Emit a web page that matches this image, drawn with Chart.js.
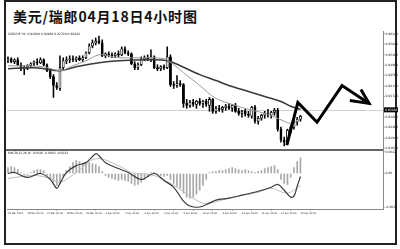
<!DOCTYPE html>
<html>
<head>
<meta charset="utf-8">
<script src="https://cdn.jsdelivr.net/npm/chart.js@4/dist/chart.umd.min.js"></script>
<style>
  html, body { margin: 0; padding: 0; background: #fff; width: 400px; height: 249px; overflow: hidden; }
  #frame { position: absolute; left: 4px; top: 0; width: 389px; height: 241px; border: 2px solid #222; }
  #title { position: absolute; left: 13px; top: 6px; font: 700 14px "Noto Sans CJK SC", sans-serif; color: #111; letter-spacing: 0.8px; white-space: nowrap; }
  #main { position: absolute; left: 0; top: 28px; }
  #macd { position: absolute; left: 0; top: 148px; }
</style>
</head>
<body>
<div id="frame"></div>
<div id="title">美元/瑞郎04月18日4小时图</div>
<canvas id="main" width="400" height="125"></canvas>
<canvas id="macd" width="400" height="72"></canvas>
<script>
// USD/CHF, 4-hour bars
const openP  = [0.9520,0.9524,0.9512,0.9520,0.9500,0.9484,0.9488,0.9496,0.9504,0.9512,0.9508,0.9520,0.9500,0.9476,0.9452,0.9416,0.9404,0.9488,0.9516,0.9520,
                0.9524,0.9520,0.9528,0.9520,0.9528,0.9548,0.9576,0.9588,0.9596,0.9588,0.9536,0.9544,0.9540,0.9536,0.9544,0.9540,0.9564,0.9548,0.9544,0.9504,
                0.9488,0.9500,0.9524,0.9528,0.9520,0.9532,0.9488,0.9484,0.9492,0.9488,0.9532,0.9420,0.9416,0.9424,0.9420,0.9344,0.9336,0.9348,0.9340,0.9352,
                0.9344,0.9352,0.9336,0.9360,0.9312,0.9324,0.9320,0.9328,0.9332,0.9324,0.9336,0.9312,0.9304,0.9312,0.9300,0.9292,0.9328,0.9272,0.9284,0.9296,
                0.9304,0.9296,0.9308,0.9316,0.9240,0.9196,0.9188,0.9236,0.9248,0.9268,0.9280];
const highP  = [0.9532,0.9528,0.9524,0.9528,0.9508,0.9496,0.9500,0.9508,0.9516,0.9524,0.9528,0.9524,0.9504,0.9484,0.9460,0.9428,0.9536,0.9528,0.9532,0.9536,
                0.9536,0.9532,0.9536,0.9536,0.9552,0.9584,0.9600,0.9608,0.9616,0.9600,0.9548,0.9552,0.9548,0.9548,0.9556,0.9572,0.9572,0.9556,0.9548,0.9512,
                0.9508,0.9532,0.9536,0.9540,0.9560,0.9536,0.9500,0.9496,0.9500,0.9572,0.9540,0.9432,0.9456,0.9436,0.9424,0.9360,0.9356,0.9360,0.9356,0.9364,
                0.9356,0.9360,0.9368,0.9364,0.9332,0.9336,0.9332,0.9340,0.9344,0.9340,0.9344,0.9324,0.9316,0.9320,0.9312,0.9332,0.9336,0.9292,0.9300,0.9312,
                0.9320,0.9312,0.9324,0.9324,0.9248,0.9208,0.9240,0.9256,0.9276,0.9288,0.9296];
const lowP   = [0.9508,0.9508,0.9504,0.9496,0.9476,0.9460,0.9480,0.9488,0.9496,0.9500,0.9504,0.9496,0.9472,0.9444,0.9368,0.9400,0.9396,0.9480,0.9504,0.9508,
                0.9512,0.9512,0.9516,0.9512,0.9524,0.9544,0.9568,0.9580,0.9584,0.9532,0.9528,0.9532,0.9528,0.9528,0.9532,0.9536,0.9544,0.9536,0.9500,0.9480,
                0.9480,0.9496,0.9516,0.9516,0.9512,0.9484,0.9476,0.9476,0.9480,0.9484,0.9412,0.9404,0.9408,0.9412,0.9328,0.9324,0.9328,0.9332,0.9324,0.9336,
                0.9328,0.9332,0.9312,0.9304,0.9304,0.9312,0.9308,0.9316,0.9320,0.9312,0.9308,0.9296,0.9288,0.9292,0.9288,0.9284,0.9264,0.9260,0.9276,0.9284,
                0.9288,0.9284,0.9296,0.9232,0.9188,0.9172,0.9180,0.9224,0.9240,0.9256,0.9272];
const closeP = [0.9524,0.9512,0.9520,0.9500,0.9484,0.9488,0.9496,0.9504,0.9512,0.9508,0.9520,0.9500,0.9476,0.9452,0.9416,0.9408,0.9488,0.9516,0.9520,0.9524,
                0.9520,0.9528,0.9520,0.9528,0.9548,0.9576,0.9588,0.9596,0.9588,0.9536,0.9544,0.9540,0.9536,0.9544,0.9540,0.9564,0.9548,0.9544,0.9504,0.9488,
                0.9500,0.9524,0.9528,0.9520,0.9532,0.9488,0.9484,0.9492,0.9488,0.9532,0.9420,0.9416,0.9424,0.9420,0.9344,0.9336,0.9348,0.9340,0.9352,0.9344,
                0.9352,0.9340,0.9360,0.9312,0.9324,0.9320,0.9328,0.9332,0.9324,0.9336,0.9312,0.9304,0.9312,0.9300,0.9296,0.9328,0.9272,0.9284,0.9296,0.9304,
                0.9296,0.9308,0.9316,0.9240,0.9196,0.9188,0.9236,0.9248,0.9268,0.9280,0.9292];

// moving averages, as [bar index, price]
const maSlow = [[0,0.9484],[8,0.9488],[11,0.9484],[16,0.9476],[21,0.9492],[28,0.9508],[34,0.9516],[44,0.9520],[49,0.9516],[53,0.9496],
                [59,0.9460],[64,0.9436],[69,0.9412],[74,0.9392],[80,0.9368],[84,0.9352],[87,0.9332],[90,0.9320]];
const maFast = [[0,0.9496],[11,0.9492],[16,0.9476],[20,0.9496],[24,0.9516],[28,0.9540],[31,0.9536],[34,0.9528],[41,0.9528],[48,0.9524],
                [51,0.9500],[54,0.9468],[59,0.9416],[64,0.9364],[69,0.9340],[74,0.9320],[80,0.9300],[85,0.9272],[87,0.9264],[90,0.9284]];

// forecast path and its arrow head, as [bar index, price]
const forecastPath = [[85.8,0.9176],[89.2,0.9348],[95.1,0.9268],[102.8,0.9416],[111.1,0.9344]];
const forecastHead = [[108.6,0.9400],[111.1,0.9344],[105.2,0.9356]];

const bidPrice = 0.9318;
const priceTicks = [0.9624,0.9582,0.9540,0.9498,0.9456,0.9414,0.9372,0.9288,0.9246,0.9204,0.9162];

// MACD panel
const macdHist = [0.0006,0.0007,0.0006,0.0004,0.0001,-0.0001,-0.0001,0.0001,0.0003,0.0004,0.0004,0.0003,-0.0002,-0.0005,-0.0009,-0.0012,-0.0010,-0.0003,0.0003,0.0007,
                  0.0011,0.0013,0.0012,0.0010,0.0010,0.0011,0.0010,0.0009,0.0007,0.0002,-0.0002,-0.0004,-0.0005,-0.0006,-0.0007,-0.0006,-0.0007,-0.0008,-0.0010,-0.0012,
                  -0.0011,-0.0009,-0.0006,-0.0003,0.0001,0.0001,-0.0001,-0.0002,-0.0003,-0.0002,-0.0006,-0.0010,-0.0013,-0.0015,-0.0020,-0.0024,-0.0025,-0.0024,-0.0021,-0.0017,
                  -0.0012,-0.0006,0.0001,0.0002,0.0002,0.0003,0.0003,0.0004,0.0005,0.0006,0.0005,0.0004,0.0003,0.0004,0.0003,0.0002,0.0001,0.0002,0.0003,0.0005,
                  0.0006,0.0007,0.0008,0.0004,-0.0006,-0.0010,-0.0011,-0.0004,0.0006,0.0012,0.0016];
const macdMain = [[0,0.0000],[2,0.0001],[6,-0.0004],[10,0.0000],[13,-0.0006],[15,-0.0015],[16,-0.0010],[18,0.0001],[21,0.0008],[24,0.0011],
                  [27,0.0020],[28,0.0018],[30,0.0011],[34,0.0005],[37,0.0001],[41,-0.0006],[45,0.0000],[48,-0.0007],[51,-0.0014],[54,-0.0028],
                  [56,-0.0033],[59,-0.0034],[62,-0.0030],[64,-0.0027],[68,-0.0025],[72,-0.0022],[77,-0.0018],[81,-0.0014],[83,-0.0011],[85,-0.0017],
                  [87,-0.0024],[88,-0.0023],[89,-0.0013],[90,-0.0003]];
const macdSignal = [[0,-0.0005],[8,-0.0002],[13,-0.0005],[16,-0.0009],[21,0.0001],[27,0.0015],[34,0.0008],[38,0.0001],[45,-0.0002],[51,-0.0012],
                    [59,-0.0029],[62,-0.0030],[68,-0.0025],[77,-0.0019],[81,-0.0015],[86,-0.0020],[90,-0.0012]];
const macdTicks = [0.0022, 0, -0.0034];

// one time label every six bars
const timeLabels = ['25 Mar 2013','26 Mar 00:00','27 Mar 00:00','28 Mar 00:00','29 Mar 00:00','1 Apr 00:00','2 Apr 00:00','3 Apr 00:00',
                    '4 Apr 00:00','5 Apr 00:00','8 Apr 00:00','9 Apr 00:00','10 Apr 00:00','11 Apr 00:00','12 Apr 00:00','15 Apr 00:00'];
const timeLabelBars = [0,6,12,18,24,30,36,42,48,54,60,66,72,78,84,90];

const xMin = -0.3, xMax = 115.4;
const tinyFont = { family: 'DejaVu Sans', size: 3 };
const timeFont = { family: 'DejaVu Sans', size: 2.4 };
const pts = arr => arr.map(([x, y]) => ({ x, y }));
const last = closeP.length - 1;

const wicks = highP.map((h, i) => ({ x: i, y: [lowP[i], h] }));
const bodies = openP.map((o, i) => ({ x: i, y: [Math.min(o, closeP[i]), Math.max(o, closeP[i])] }));
const isUp = i => closeP[i] >= openP[i];

const mainExtras = {
  id: 'mainExtras',
  beforeDatasetsDraw(chart) {
    const { ctx, chartArea: a, scales: { y } } = chart;
    const py = Math.round(y.getPixelForValue(bidPrice)) + 0.5;
    ctx.save();
    ctx.strokeStyle = '#d0d0d0';
    ctx.lineWidth = 1;
    ctx.beginPath(); ctx.moveTo(a.left, py); ctx.lineTo(a.right, py); ctx.stroke();
    ctx.restore();
  },
  afterDraw(chart) {
    const { ctx, chartArea: a, scales: { y } } = chart;
    ctx.save();
    ctx.font = '3px "DejaVu Sans"';
    ctx.fillStyle = '#222';
    ctx.textBaseline = 'middle';
    ctx.fillText(`USDCHF,H4  ${openP[last].toFixed(5)} ${highP[last].toFixed(5)} ${lowP[last].toFixed(5)} ${closeP[last].toFixed(5)}`, a.left + 1, a.top + 3);
    const py = y.getPixelForValue(bidPrice);
    ctx.fillStyle = '#000';
    ctx.fillRect(a.right + 1, py - 2.5, 14, 5);
    ctx.fillStyle = '#fff';
    ctx.fillText(bidPrice.toFixed(5), a.right + 2, py);
    ctx.restore();
  }
};

new Chart(document.getElementById('main'), {
  type: 'bar',
  data: {
    datasets: [
      { type: 'line', data: pts(forecastPath), borderColor: '#000', borderWidth: 3, pointRadius: 0, borderJoinStyle: 'miter', order: -3 },
      { type: 'line', data: pts(forecastHead), borderColor: '#000', borderWidth: 3, pointRadius: 0, borderJoinStyle: 'miter', order: -3 },
      { type: 'line', data: pts(maSlow), borderColor: '#3a3a3a', borderWidth: 1.6, pointRadius: 0, tension: 0.35, order: -1 },
      { type: 'line', data: pts(maFast), borderColor: '#9a9a9a', borderWidth: 1, pointRadius: 0, tension: 0.35, order: -2 },
      { data: bodies, grouped: false, barThickness: 2.2, borderSkipped: false, borderWidth: 0.8, borderColor: '#000',
        backgroundColor: c => isUp(c.dataIndex) ? '#fff' : '#000', order: 1 },
      { data: wicks, grouped: false, barThickness: 0.9, backgroundColor: '#000', borderWidth: 0, order: 2 }
    ]
  },
  options: {
    responsive: false, animation: false, events: [],
    layout: { padding: { left: 7, top: 3, right: 0, bottom: 4 } },
    plugins: { legend: { display: false }, tooltip: { enabled: false } },
    scales: {
      x: { type: 'linear', min: xMin, max: xMax, offset: false, display: false },
      y: {
        position: 'right', min: 0.9160, max: 0.9636, beginAtZero: false,
        afterBuildTicks: s => { s.ticks = priceTicks.map(v => ({ value: v })); },
        afterFit: s => { s.width = 17; },
        ticks: { font: tinyFont, color: '#222', padding: 1, callback: v => v.toFixed(5) },
        grid: { drawOnChartArea: false, tickLength: 1.5, color: '#777' },
        border: { color: '#888' }
      }
    }
  },
  plugins: [mainExtras]
});

const macdExtras = {
  id: 'macdExtras',
  afterDraw(chart) {
    const { ctx, chartArea: a } = chart;
    ctx.save();
    ctx.strokeStyle = '#333';
    ctx.lineWidth = 1.6;
    ctx.beginPath(); ctx.moveTo(5, a.top - 0.8); ctx.lineTo(a.right, a.top - 0.8); ctx.stroke();
    ctx.font = '3px "DejaVu Sans"';
    ctx.fillStyle = '#222';
    ctx.textBaseline = 'middle';
    const m = macdMain[macdMain.length - 1][1], s = macdSignal[macdSignal.length - 1][1];
    ctx.fillText(`MACD(12,26,9)  ${macdHist[last].toFixed(4)} ${m.toFixed(4)} ${s.toFixed(4)}`, a.left + 1, a.top + 2.5);
    ctx.restore();
  }
};

new Chart(document.getElementById('macd'), {
  type: 'bar',
  data: {
    datasets: [
      { type: 'line', data: pts(macdMain), borderColor: '#3a3a3a', borderWidth: 1.2, pointRadius: 0, tension: 0.35, order: -2 },
      { type: 'line', data: pts(macdSignal), borderColor: '#bdbdbd', borderWidth: 1, pointRadius: 0, tension: 0.35, order: -1 },
      { data: macdHist.map((v, i) => ({ x: i, y: v })), barThickness: 1, backgroundColor: '#a8a8a8', borderWidth: 0, order: 1 }
    ]
  },
  options: {
    responsive: false, animation: false, events: [],
    layout: { padding: { left: 7, top: 2, right: 0, bottom: 0 } },
    plugins: { legend: { display: false }, tooltip: { enabled: false } },
    scales: {
      x: {
        type: 'linear', min: xMin, max: xMax, offset: false, position: 'bottom',
        afterBuildTicks: s => { s.ticks = timeLabelBars.map(v => ({ value: v })); },
        afterFit: s => { s.height = 11; },
        ticks: { font: timeFont, color: '#222', padding: 1.5, align: 'start', maxRotation: 0, autoSkip: false,
                 callback: (v, i) => timeLabels[i] },
        grid: { drawOnChartArea: false, tickLength: 1.5, color: '#777' },
        border: { color: '#888' }
      },
      y: {
        position: 'right', min: -0.0036, max: 0.0023, beginAtZero: false,
        afterBuildTicks: s => { s.ticks = macdTicks.map(v => ({ value: v })); },
        afterFit: s => { s.width = 17; },
        ticks: { font: tinyFont, color: '#222', padding: 1, callback: v => v === 0 ? '0.00' : v.toFixed(4) },
        grid: { drawOnChartArea: false, tickLength: 1.5, color: '#777' },
        border: { color: '#888' }
      }
    }
  },
  plugins: [macdExtras]
});
</script>
</body>
</html>
